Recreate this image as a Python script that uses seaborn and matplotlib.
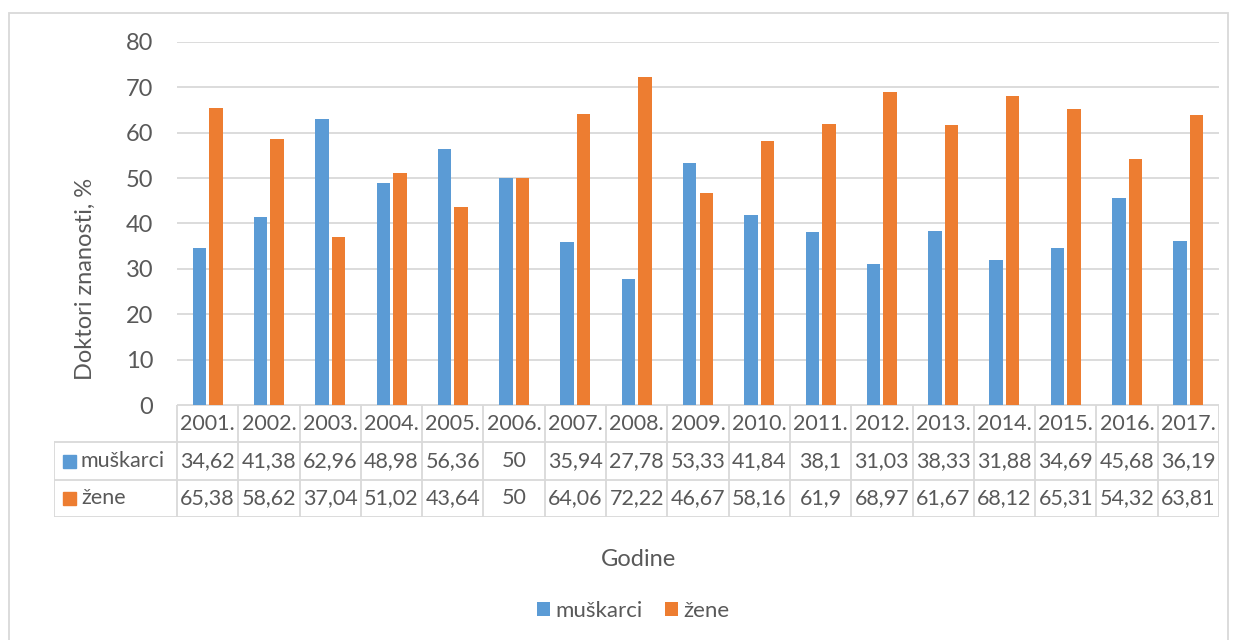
import numpy as np
import pandas as pd
import seaborn as sns
import matplotlib.pyplot as plt
from matplotlib.patches import Rectangle, Patch

# Data
godine = [2001, 2002, 2003, 2004, 2005, 2006, 2007, 2008, 2009,
          2010, 2011, 2012, 2013, 2014, 2015, 2016, 2017]
muskarci = [34.62, 41.38, 62.96, 48.98, 56.36, 50, 35.94, 27.78, 53.33,
            41.84, 38.1, 31.03, 38.33, 31.88, 34.69, 45.68, 36.19]
zene = [65.38, 58.62, 37.04, 51.02, 43.64, 50, 64.06, 72.22, 46.67,
        58.16, 61.9, 68.97, 61.67, 68.12, 65.31, 54.32, 63.81]
serije = ["muškarci", "žene"]
boje = ["#5B9BD5", "#ED7D31"]

year_labels = [f"{g}." for g in godine]
df = pd.DataFrame({
    "godina": year_labels * 2,
    "udio": muskarci + zene,
    "spol": [serije[0]] * len(godine) + [serije[1]] * len(godine),
})

sns.set_theme(style="white")
plt.rcParams["font.family"] = ["Lato", "DejaVu Sans"]
txt = "#595959"
grid = "#D9D9D9"
fs_tab = 15.5

W, H = 1236, 640
fig = plt.figure(figsize=(W / 100, H / 100), dpi=100)

def fx(px):
    return px / W

def fy(py):
    return 1 - py / H

x0, x1 = 177, 1219
y_top, y_base = 42, 405
ax = fig.add_axes([fx(x0), fy(y_base), fx(x1) - fx(x0), fy(y_top) - fy(y_base)])
sns.barplot(data=df, x="godina", y="udio", hue="spol", palette=boje,
            width=0.54, ax=ax, legend=False, saturation=1)
for p in ax.patches:
    w = p.get_width()
    p.set_x(p.get_x() + 0.025)
    p.set_width(w - 0.05)
    p.set_edgecolor("none")

ax.set_xlim(-0.5, len(godine) - 0.5)
ax.set_ylim(0, 80)
ax.set_yticks(range(0, 81, 10))
ax.yaxis.grid(True, color=grid, linewidth=1.3)
ax.set_axisbelow(True)
for s in ax.spines.values():
    s.set_visible(False)
ax.set_xticks([])
ax.set_xlabel("")
ax.set_ylabel("")
ax.tick_params(axis="y", colors=txt, labelsize=17, length=0, pad=17)

# Data table below the axes
tl, tr = 54, 1219
rows = [405, 442, 480, 517]
tab = fig.add_axes([fx(tl), fy(rows[-1]), fx(tr) - fx(tl), fy(rows[0]) - fy(rows[-1])])
tab.set_xlim(tl, tr)
tab.set_ylim(rows[-1], rows[0])
tab.axis("off")
cw = (x1 - x0) / len(godine)
lc = dict(color=grid, linewidth=1.3)
tab.plot([x0, tr], [rows[0], rows[0]], **lc)
for r in rows[1:]:
    tab.plot([tl, tr], [r, r], **lc)
tab.plot([tl, tl], [rows[1], rows[-1]], **lc)
for i in range(len(godine) + 1):
    xv = x0 + i * cw
    tab.plot([xv, xv], [rows[0], rows[-1]], **lc)

def fmt(v):
    return f"{v:g}".replace(".", ",")

for i, lab in enumerate(year_labels):
    cx = x0 + (i + 0.5) * cw
    tab.text(cx, (rows[0] + rows[1]) / 2, lab, ha="center", va="center", fontsize=fs_tab, color=txt)
    tab.text(cx, (rows[1] + rows[2]) / 2, fmt(muskarci[i]), ha="center", va="center", fontsize=fs_tab, color=txt)
    tab.text(cx, (rows[2] + rows[3]) / 2, fmt(zene[i]), ha="center", va="center", fontsize=fs_tab, color=txt)

for k, (name, c) in enumerate(zip(serije, boje)):
    cy = (rows[k + 1] + rows[k + 2]) / 2
    tab.add_patch(Rectangle((63, cy - 6.5), 13, 13, color=c, clip_on=False))
    tab.text(81, cy, name, ha="left", va="center", fontsize=fs_tab, color=txt)

# Axis titles
fig.text(fx(85), fy(279), "Doktori znanosti, %", rotation=90, ha="center", va="center",
         fontsize=17, color=txt)
fig.text(fx(638), fy(560), "Godine", ha="center", va="center", fontsize=17, color=txt)

# Legend
handles = [Patch(facecolor=c, edgecolor="none", label=n) for n, c in zip(serije, boje)]
leg = fig.legend(handles=handles, loc="center", bbox_to_anchor=(fx(633), fy(611)), ncol=2,
                 frameon=False, fontsize=16, handlelength=0.58, handleheight=0.58,
                 handletextpad=0.25, columnspacing=1.0)
for t in leg.get_texts():
    t.set_color(txt)

# Chart border
fig.add_artist(Rectangle((fx(9), fy(650)), fx(1228) - fx(9), fy(13) - fy(650),
                         transform=fig.transFigure, fill=False, edgecolor=grid, linewidth=1.3))

fig.savefig("out.png", dpi=100)
